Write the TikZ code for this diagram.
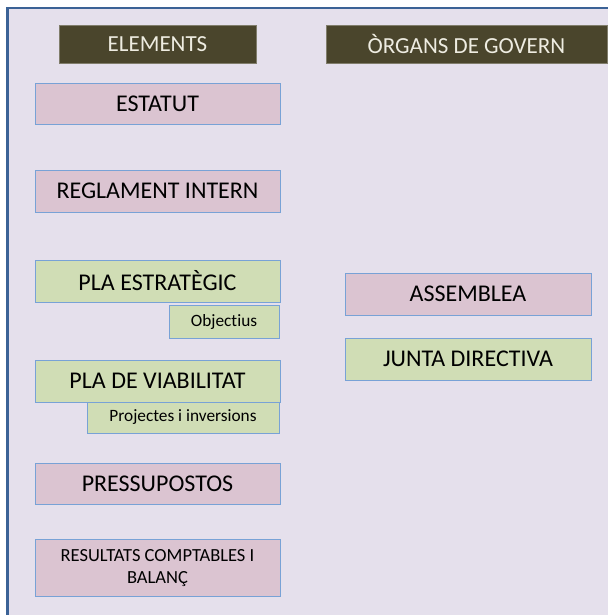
\documentclass[tikz,border=0pt]{standalone}
\usepackage{fontspec}
\setmainfont{Carlito}[Ligatures=CommonOff]
\definecolor{fons}{HTML}{E5E0EC}
\definecolor{marc}{HTML}{3B6296}
\definecolor{oliva}{HTML}{4A452C}
\definecolor{clar}{HTML}{EEECE1}
\definecolor{rosa}{HTML}{DBC4D1}
\definecolor{verd}{HTML}{D0DDB5}
\definecolor{vora}{HTML}{78A2D6}

\begin{document}
\begin{tikzpicture}[x=1pt,y=-1pt,
    capsal/.style={fill=oliva, draw=oliva!70!white, line width=0.6pt, text=clar,
      inner sep=0pt, minimum height=38pt, font=\fontsize{23}{27}\selectfont},
    caixa/.style={draw=vora, line width=0.9pt, inner sep=0pt, minimum width=245pt,
      minimum height=41pt, font=\fontsize{24}{28}\selectfont},
    subcaixa/.style={caixa, fill=verd, font=\fontsize{17.3}{20}\selectfont}]
    \useasboundingbox (0,0) rectangle (608,615);
    \fill [white] (0,0) rectangle (608,615);
    \fill [fons] (7.3,8) rectangle (608,615);

    % Marc
    \draw [marc, line width=2.7pt] (7.3,615) -- (7.3,8) -- (608,8);

    % Capcaleres
    \node [capsal, minimum width=197pt] (elements) at (157.5,44) {ELEMENTS};
    \node [capsal, minimum width=281pt] (organs) at (466.5,44) {ÒRGANS DE GOVERN};

    % Elements
    \node [caixa, fill=rosa] (estatut) at (157.5,103.5) {ESTATUT};
    \node [caixa, fill=rosa, minimum height=42pt] (reglament) at (157.5,191) {REGLAMENT INTERN};
    \node [caixa, fill=verd, minimum height=42pt] (estrategic) at (157.5,281) {PLA ESTRATÈGIC};
    \node [subcaixa, minimum width=110pt, minimum height=33pt] (objectius) at (224,321.5) {Objectius};
    \node [caixa, fill=verd, minimum height=42pt] (viabilitat) at (157.5,381) {PLA DE VIABILITAT};
    \node [subcaixa, minimum width=192pt, minimum height=31pt] (projectes) at (183,417.5) {Projectes i inversions};
    \node [caixa, fill=rosa] (pressupostos) at (157.5,483.5) {PRESSUPOSTOS};
    \node [caixa, fill=rosa, minimum height=57pt, align=center,
      font=\fontsize{18.5}{22.7}\selectfont] (resultats) at (157.5,568) {RESULTATS COMPTABLES I\\BALANÇ};

    % Organs
    \node [caixa, fill=rosa, minimum width=246pt, minimum height=42pt] (assemblea) at (468,294) {ASSEMBLEA};
    \node [caixa, fill=verd, minimum width=246pt, minimum height=42pt] (junta) at (468,359) {JUNTA DIRECTIVA};
\end{tikzpicture}
\end{document}
